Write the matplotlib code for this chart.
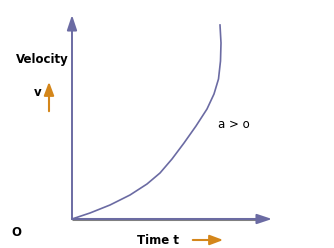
import matplotlib
matplotlib.use("Agg")
import matplotlib.pyplot as plt
from matplotlib.patches import FancyArrowPatch

# velocity curve (t, v in axis units)
t = [0, 18, 38, 58, 75, 88, 100, 112, 124, 135, 142, 146.5, 148.5, 149, 148]
v = [0, 6, 14, 24, 35, 46, 60, 76, 93, 110, 125, 140, 158, 176, 194]

purple = "#6b6ba3"
grey = "#808080"
orange = "#d4861a"

fig = plt.figure(figsize=(3.34, 2.48), dpi=100)
ax = fig.add_axes([72 / 334, 29 / 248, 200 / 334, 204 / 248])
ax.set_xlim(0, 200)
ax.set_ylim(0, 204)
ax.axis("off")

# axes with arrowheads
head = "-|>,head_length=0.9,head_width=0.3"
ax.annotate("", xy=(0, 204), xytext=(0, 0), annotation_clip=False,
            arrowprops=dict(arrowstyle=head, color=purple, lw=1.4, shrinkA=0, shrinkB=0))
ax.annotate("", xy=(200, 0), xytext=(0, 0), annotation_clip=False,
            arrowprops=dict(arrowstyle=head, color=purple, lw=1.4, shrinkA=0, shrinkB=0))
ax.plot([0, 188], [0, 0], color=grey, lw=2.2, solid_capstyle="butt", clip_on=False)

ax.plot(t, v, color=purple, lw=1.2, solid_joinstyle="round", clip_on=False)

# labels
fig.text(16 / 334, 1 - 60 / 248, "Velocity", fontsize=8.5, fontweight="bold", va="center")
fig.text(34 / 334, 1 - 92 / 248, "v", fontsize=8.5, fontweight="bold", va="center")
fig.text(11 / 334, 1 - 232 / 248, "O", fontsize=8.5, fontweight="bold", va="center")
fig.text(137 / 334, 1 - 241 / 248, "Time t", fontsize=8.5, fontweight="bold", va="center")
fig.text(218 / 334, 1 - 125 / 248, "a > o", fontsize=8.5, va="center")

# orange direction arrows
small = "-|>,head_length=0.8,head_width=0.3"
fig.patches.append(FancyArrowPatch(
    (49 / 334, 1 - 114 / 248), (49 / 334, 1 - 79 / 248), transform=fig.transFigure,
    arrowstyle=small, color=orange, lw=1.5, mutation_scale=10))
fig.patches.append(FancyArrowPatch(
    (190 / 334, 1 - 240 / 248), (226 / 334, 1 - 240 / 248), transform=fig.transFigure,
    arrowstyle=small, color=orange, lw=1.5, mutation_scale=10))

fig.savefig("out.png", dpi=100)
